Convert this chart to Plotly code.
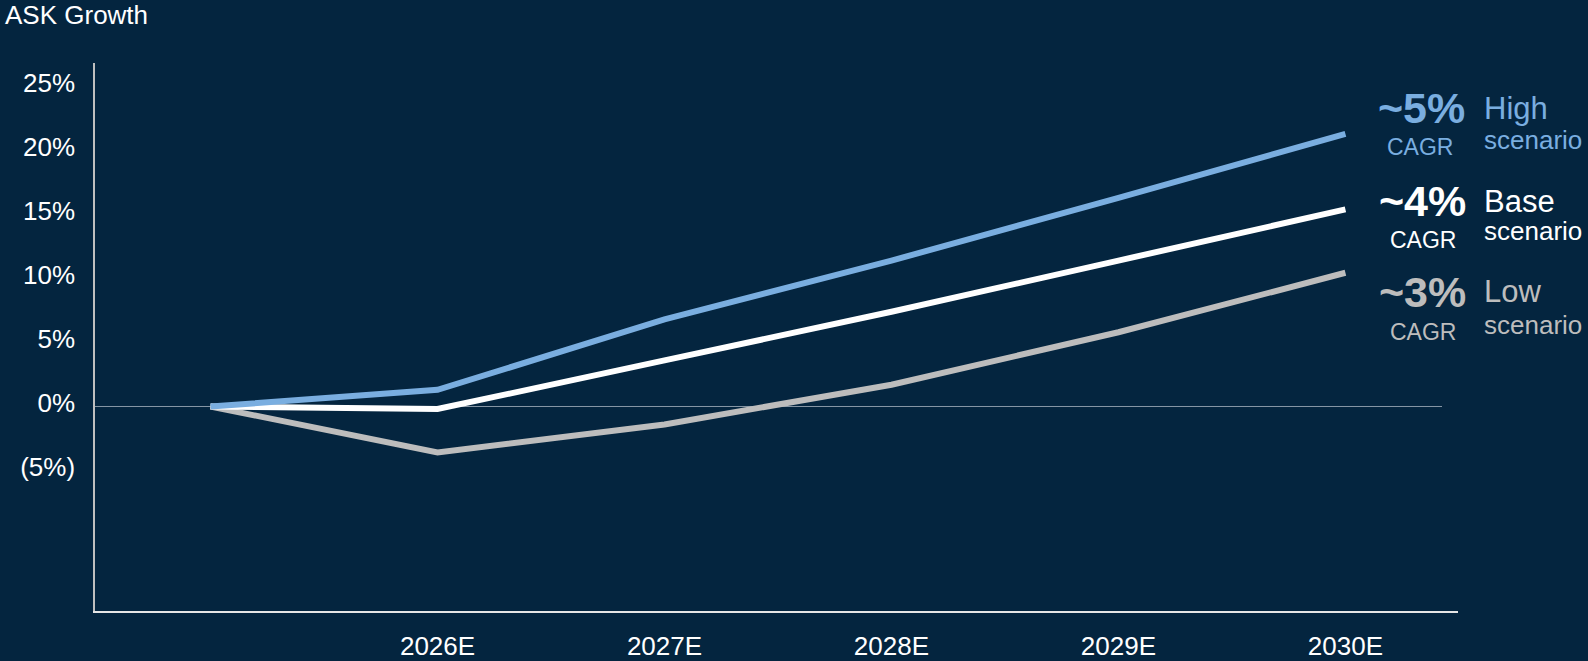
import plotly.graph_objects as go

# ---- data ----
years = [2025, 2026, 2027, 2028, 2029, 2030]
x_tick_vals = [2026, 2027, 2028, 2029, 2030]
x_tick_text = ["2026E", "2027E", "2028E", "2029E", "2030E"]
y_tick_vals = [-5, 0, 5, 10, 15, 20, 25]
y_tick_text = ["(5%)", "0%", "5%", "10%", "15%", "20%", "25%"]

high = [0.0, 1.3, 6.8, 11.4, 16.3, 21.3]
base = [0.0, -0.2, 3.6, 7.4, 11.4, 15.4]
low = [0.0, -3.6, -1.4, 1.7, 5.8, 10.45]

scenario_names = ["High", "Base", "Low"]
cagr_labels = ["~5%", "~4%", "~3%"]

BG = "#04253f"
C_HIGH = "#7aaee0"
C_BASE = "#ffffff"
C_LOW = "#bdbdbd"
FONT = "Liberation Sans, Arial, sans-serif"

fig = go.Figure()
for vals, col in [(low, C_LOW), (base, C_BASE), (high, C_HIGH)]:
    fig.add_trace(go.Scatter(x=years, y=vals, mode="lines",
                             line=dict(color=col, width=6),
                             hoverinfo="skip", showlegend=False))

W, H = 1588, 661
L, R, T, B = 95, 130, 63, 50
pw = W - L - R

def px_to_paper(px):
    return (px - L) / pw

# 0% reference line
fig.add_shape(type="line", xref="paper", yref="y", x0=0, x1=px_to_paper(1442),
              y0=0, y1=0, line=dict(color="#8797a6", width=1), layer="below")

# title
fig.add_annotation(text="ASK Growth", xref="paper", yref="paper",
                   x=px_to_paper(3), y=(H - B - 14.5) / (H - T - B),
                   xanchor="left", yanchor="middle", showarrow=False,
                   font=dict(family=FONT, size=26, color="#ffffff"))

# right-hand labels
rows = [
    (C_HIGH, 23.3, 20.3, 20.8, 1467, 1455),
    (C_BASE, 16.05, 13.0, 13.7, 1468, 1458),
    (C_LOW, 8.95, 5.84, 6.4, 1468, 1458),
]
for (col, y_big, y_cagr, y_sc, xr_big, xr_cagr), name, cg in zip(rows, scenario_names, cagr_labels):
    fig.add_annotation(text="<b>" + cg + "</b>", xref="paper", yref="y",
                       x=px_to_paper(xr_big), y=y_big, xanchor="right", yanchor="middle",
                       showarrow=False, font=dict(family=FONT, size=43, color=col))
    fig.add_annotation(text=name, xref="paper", yref="y",
                       x=px_to_paper(1482), y=y_big, xanchor="left", yanchor="middle",
                       showarrow=False, font=dict(family=FONT, size=31, color=col))
    fig.add_annotation(text="CAGR", xref="paper", yref="y",
                       x=px_to_paper(xr_cagr), y=y_cagr, xanchor="right", yanchor="middle",
                       showarrow=False, font=dict(family=FONT, size=23, color=col))
    fig.add_annotation(text="scenario", xref="paper", yref="y",
                       x=px_to_paper(1482), y=y_sc, xanchor="left", yanchor="middle",
                       showarrow=False, font=dict(family=FONT, size=26, color=col))

fig.update_layout(
    width=W, height=H,
    margin=dict(l=L, r=R, t=T, b=B, pad=0, autoexpand=False),
    paper_bgcolor=BG, plot_bgcolor=BG,
    font=dict(family=FONT, size=26, color="#ffffff"),
    showlegend=False,
    xaxis=dict(range=[2024.491, 2030.496], tickvals=x_tick_vals, ticktext=x_tick_text,
               showgrid=False, zeroline=False, showline=True, linecolor="#e6e6e6", linewidth=2,
               ticks="outside", ticklen=11, tickcolor=BG, tickfont=dict(size=26, color="#ffffff"),
               automargin=False, fixedrange=True),
    yaxis=dict(range=[-15.98, 26.84], tickvals=y_tick_vals, ticktext=y_tick_text,
               showgrid=False, zeroline=False, showline=True, linecolor="#bfbfbf", linewidth=1.5,
               ticks="outside", ticklen=13, tickcolor=BG, tickfont=dict(size=26, color="#ffffff"),
               ticklabelshift=-4, automargin=False, fixedrange=True),
)

fig.write_html("out.html")
